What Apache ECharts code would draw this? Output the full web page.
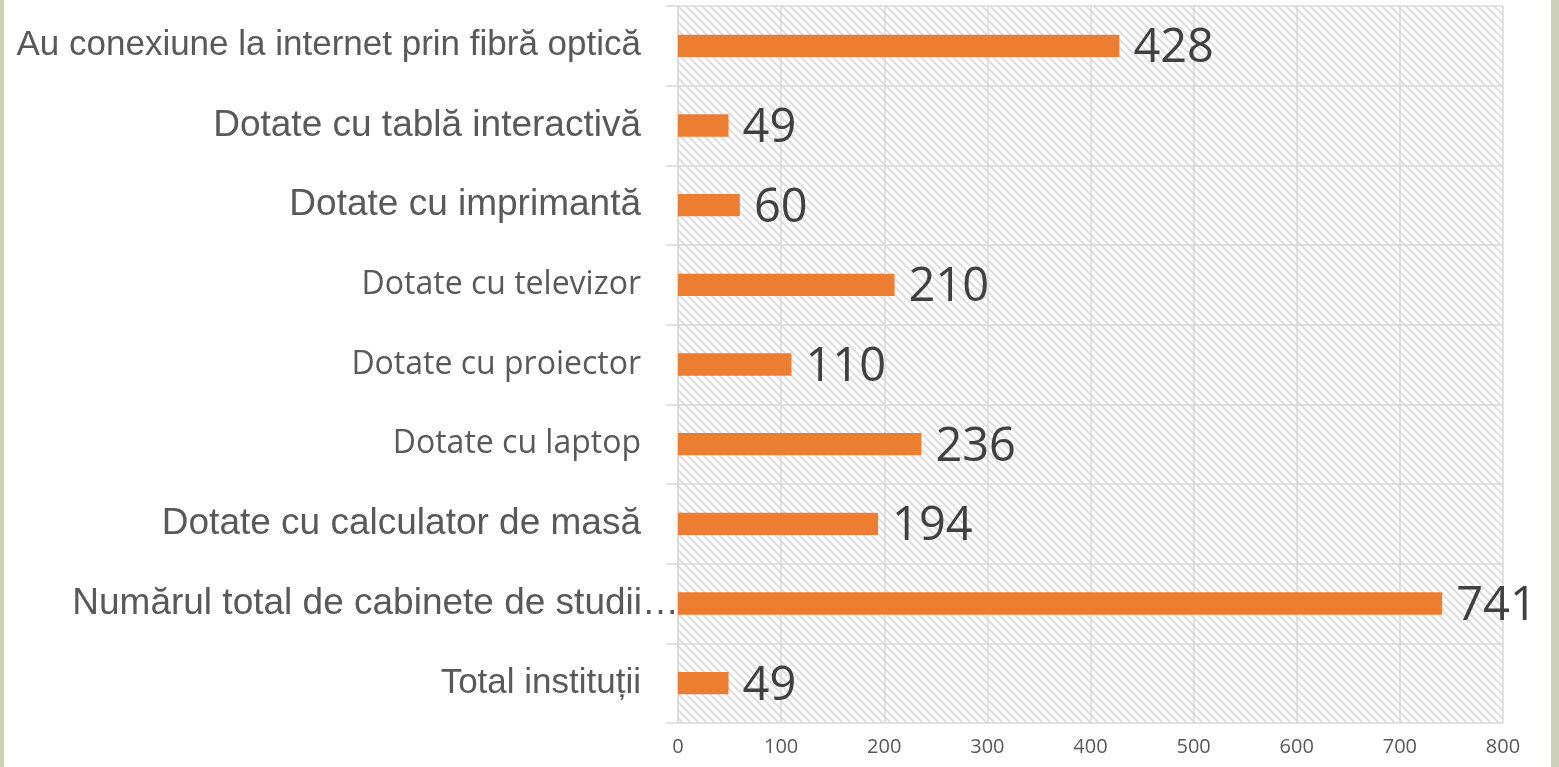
<!DOCTYPE html>
<html>
<head>
<meta charset="utf-8">
<script src="https://cdn.jsdelivr.net/npm/echarts@6/dist/echarts.min.js"></script>
<style>
html,body{margin:0;padding:0;background:#fff;}
#c{width:1559px;height:767px;}
</style>
</head>
<body>
<div id="c"></div>
<script>
const categories = [
  'Au conexiune la internet prin fibră optică',
  'Dotate cu tablă interactivă',
  'Dotate cu imprimantă',
  'Dotate cu televizor',
  'Dotate cu proiector',
  'Dotate cu laptop',
  'Dotate cu calculator de masă',
  'Numărul total de cabinete de studii…',
  'Total instituții'
];
const values = [428, 49, 60, 210, 110, 236, 194, 741, 49];
const axisMin = 0;
const axisMax = 800;
const axisStep = 100;

// hatch pattern for plot background
const pc = document.createElement('canvas');
pc.width = 8; pc.height = 8;
const pctx = pc.getContext('2d');
pctx.fillStyle = '#ffffff';
pctx.fillRect(0, 0, 8, 8);
pctx.strokeStyle = '#dedede';
pctx.lineWidth = 2;
for (let k = -1; k <= 1; k++) {
  pctx.beginPath();
  pctx.moveTo(k * 8 - 1, -1);
  pctx.lineTo(k * 8 + 9, 9);
  pctx.stroke();
}

const styleOf = {
  'Au conexiune la internet prin fibră optică': 'a35',
  'Dotate cu tablă interactivă': 'a37',
  'Dotate cu imprimantă': 'a37',
  'Dotate cu televizor': 'c',
  'Dotate cu proiector': 'c',
  'Dotate cu laptop': 'c',
  'Dotate cu calculator de masă': 'a37',
  'Numărul total de cabinete de studii…': 'a37',
  'Total instituții': 'a35'
};

const catData = categories.map(function (name) {
  if (name.indexOf('Numărul') === 0) {
    return {value: name, textStyle: {padding: [0, -38, 0, 0]}};
  }
  return name;
});

const chart = echarts.init(document.getElementById('c'), null, {renderer: 'canvas'});
chart.setOption({
  animation: false,
  backgroundColor: '#ffffff',
  grid: {
    left: 678, right: 56, top: 6, bottom: 44,
    show: true,
    borderWidth: 0,
    backgroundColor: {image: pc, repeat: 'repeat'}
  },
  graphic: [
    {type: 'rect', left: 0, top: 0, shape: {width: 4, height: 767}, style: {fill: '#cdd1b9'}},
    {type: 'rect', right: 0, top: 0, shape: {width: 8, height: 767}, style: {fill: '#cdd1b9'}}
  ],
  xAxis: {
    type: 'value',
    min: axisMin, max: axisMax, interval: axisStep,
    axisLine: {show: false},
    axisTick: {show: false},
    splitLine: {show: true, lineStyle: {color: '#d9d9d9', width: 1.5}},
    axisLabel: {
      color: '#595959', fontFamily: 'Open Sans', fontSize: 20, margin: 14
    }
  },
  yAxis: {
    type: 'category',
    inverse: true,
    data: catData,
    axisLine: {show: true, lineStyle: {color: '#d9d9d9', width: 1.5}},
    axisTick: {show: true, length: 12, lineStyle: {color: '#d9d9d9', width: 1.5}},
    splitLine: {show: true, lineStyle: {color: '#d9d9d9', width: 1.5}},
    axisLabel: {
      margin: 37,
      color: '#595959',
      formatter: function (v) {
        const k = styleOf[v] || 'a37';
        return '{' + k + '|' + v + '}';
      },
      rich: {
        a35: {fontFamily: 'Liberation Sans', fontSize: 35, color: '#595959'},
        a37: {fontFamily: 'Liberation Sans', fontSize: 37, color: '#595959'},
        c: {fontFamily: 'Open Sans', fontSize: 32, color: '#595959'}
      }
    }
  },
  series: [{
    type: 'bar',
    data: values,
    barWidth: '28%',
    itemStyle: {color: '#ed7d31'},
    label: {
      show: true,
      position: 'right',
      distance: 14,
      offset: [0, 3],
      fontFamily: 'Open Sans',
      fontSize: 47,
      color: '#404040'
    }
  }]
});
</script>
</body>
</html>
